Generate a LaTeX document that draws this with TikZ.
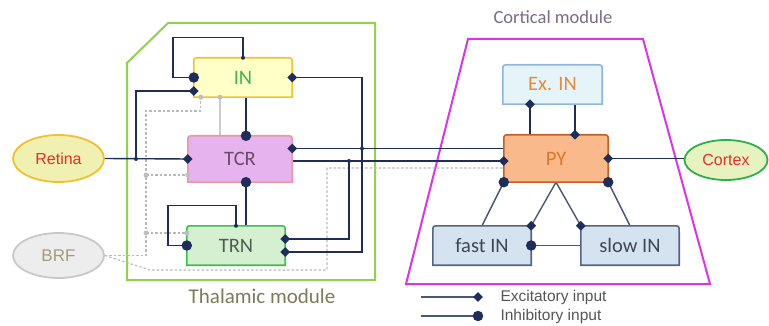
\documentclass[tikz,border=0pt]{standalone}
\usepackage{fontspec}
\setmainfont{Carlito}
\newfontfamily\arialf{Liberation Sans}
\usetikzlibrary{shapes.geometric,calc}
\definecolor{navy}{HTML}{1F2D5C}
\definecolor{slate}{HTML}{46587A}
\definecolor{gmod}{HTML}{92D050}
\definecolor{mmod}{HTML}{DD33E6}
\definecolor{inF}{HTML}{FFFFC8}\definecolor{inD}{HTML}{F2C230}\definecolor{inT}{HTML}{3DB54A}
\definecolor{tcrF}{HTML}{E6B3EE}\definecolor{tcrD}{HTML}{E89AA0}\definecolor{tcrT}{HTML}{6A4A6A}
\definecolor{trnF}{HTML}{D4F0D0}\definecolor{trnD}{HTML}{3CC04A}\definecolor{trnT}{HTML}{4F5F4F}
\definecolor{exF}{HTML}{E4F4F8}\definecolor{exD}{HTML}{8EB4E3}\definecolor{exT}{HTML}{E68A3A}
\definecolor{pyF}{HTML}{F9B98A}\definecolor{pyD}{HTML}{C0602A}\definecolor{pyT}{HTML}{D9782F}
\definecolor{ciF}{HTML}{D5E2F0}\definecolor{ciD}{HTML}{55657F}\definecolor{ciT}{HTML}{3F4757}
\definecolor{retF}{HTML}{F0F0B0}\definecolor{retD}{HTML}{F0C030}\definecolor{redT}{HTML}{E52E2E}
\definecolor{brfF}{HTML}{EDEDED}\definecolor{brfD}{HTML}{C8C8C8}\definecolor{brfT}{HTML}{A39B85}
\definecolor{corF}{HTML}{E6F2C0}\definecolor{corD}{HTML}{2EAF4A}
\definecolor{thT}{HTML}{7B7B5C}\definecolor{coT}{HTML}{7A6A88}\definecolor{lgT}{HTML}{555555}
\newcommand\tbox[3]{%
  \draw[line width=1.6pt, draw=#2, fill=#3] (#1.south west) -- ([yshift=-6pt]#1.north west)
    .. controls (#1.north west) .. ([xshift=6pt]#1.north west)
    -- ([xshift=-6pt]#1.north east)
    .. controls (#1.north east) .. ([yshift=-6pt]#1.north east)
    -- (#1.south east) -- cycle;}
\begin{document}
\begin{tikzpicture}[x=1pt,y=-1pt,
  box/.style={inner sep=0pt, minimum width=98pt, minimum height=39pt},
  btxt/.style={font=\fontsize{20.5}{21}\selectfont, inner sep=0pt},
  oval/.style={ellipse, draw, line width=1.8pt, inner sep=0pt, font=\arialf\fontsize{16}{17}\selectfont},
  nv/.style={draw=navy, line width=1.4pt},
  sl/.style={draw=slate, line width=1.4pt},
  inh/.style={circle, fill=navy, minimum size=10.5pt, inner sep=0pt},
  exc/.style={diamond, fill=navy, minimum size=10pt, inner sep=0pt},
  jdot/.style={circle, fill=navy, minimum size=4pt, inner sep=0pt},
  gd/.style={draw=gray!55, line width=1.1pt, dash pattern=on 2.5pt off 2pt},
  gdot/.style={circle, fill=gray!50, minimum size=5pt, inner sep=0pt}]
\useasboundingbox (0,0) rectangle (769,326);
% modules
\draw[gmod, line width=2pt] (168,23) -- (375,23) -- (375,280) -- (127,280) -- (127,63) -- cycle;
\draw[mmod, line width=2pt] (468,39) -- (643,39) -- (710,284) -- (406,284) -- cycle;
\node[text=thT, font=\fontsize{21}{23}\selectfont] (thlab) at (262,296) {Thalamic module};
\node[text=coT, font=\fontsize{18.5}{20}\selectfont] (colab) at (553,17) {Cortical module};
% box frames (invisible, for anchors)
\node[box] (IN) at (243,77.5) {};
\node[box, minimum width=104pt, minimum height=46pt] (TCR) at (240,159) {};
\node[box] (TRN) at (236,245.5) {};
\node[box, minimum width=99pt] (EX) at (552.5,84.5) {};
\node[box, minimum width=104pt, minimum height=47pt] (PY) at (556,158.5) {};
\node[box] (FI) at (482,245.5) {};
\node[box] (SI) at (630,245.5) {};
\node[oval, draw=retD, fill=retF, text=redT, minimum width=91pt, minimum height=47pt] (RET) at (58.5,158.5) {Retina};
\node[oval, draw=brfD, fill=brfF, text=brfT, minimum width=91pt, minimum height=45pt, font=\arialf\fontsize{17}{18}\selectfont] (BRF) at (58.5,255.5) {BRF};
\node[oval, draw=corD, fill=corF, text=redT, minimum width=83pt, minimum height=40pt] (COR) at (726,160) {Cortex};
% helper coordinates
\coordinate (vx0) at (136,0);
\coordinate (vx1) at (362,0);
\coordinate (vx2) at (349,0);
\coordinate (inB) at ([yshift=-13.5pt]IN.west);
\coordinate (tcrA) at ([yshift=10.5pt]TCR.east);
\coordinate (tcrB) at ([yshift=-2pt]TCR.east);
\coordinate (trnA) at ([yshift=6.5pt]TRN.east);
\coordinate (trnB) at ([yshift=-6.5pt]TRN.east);
\coordinate (inG1) at ([xshift=7pt]IN.south west);
\coordinate (inG2) at ([xshift=-23pt]IN.south);
\coordinate (tcrC) at ([yshift=-16pt]TCR.west);
\coordinate (trnC) at ([yshift=12.5pt]TRN.west);
\coordinate (g1) at (146,111);
\coordinate (g3) at (150,270);
\coordinate (g4) at (327,270);
\coordinate (g5) at (327,168);
\coordinate (inS) at ([xshift=3pt]IN.south);
\coordinate (tcrS) at ([xshift=6pt]TCR.south);
\coordinate (exL) at ([xshift=-22.5pt]EX.south);
\coordinate (exR) at ([xshift=22.5pt]EX.south);
% gray BRF paths
\draw[gd] (BRF.east) -| (g1) -| (inG1);
\draw[gd] (g1 |- tcrC) -- (tcrC);
\draw[gd] (g1 |- trnC) -- (trnC);
\draw[gd] (BRF.east) -- (g3) -- (g4) |- (PY.west |- g5);
\draw[gray!40, line width=1.1pt] (inG2) -- (inG2 |- TCR.north);
% thalamic connections
\draw[nv] (IN.north) -- ++(0,-20) -| ([xshift=-21pt]IN.west) -- (IN.west);
\draw[nv] (IN.east) -| (vx1 |- trnB) -- (trnB);
\draw[nv] (vx2 |- tcrB) |- (trnA);
\draw[nv] (tcrA) -- (PY.west |- tcrA);
\draw[nv] (tcrB) -- (PY.west |- tcrB);
\draw[nv] (RET.east) -- (TCR.west);
\draw[nv] (vx0 |- TCR.west) |- (inB);
\draw[nv] (inS) -- (inS |- TCR.north);
\draw[nv] (tcrS) -- (tcrS |- TRN.north);
\draw[nv] (TRN.north) -- ++(0,-20) -| ([xshift=-19pt]TRN.west) -- (TRN.west);
% cortical connections
\draw[nv] (exL) -- (exL |- PY.north);
\draw[nv] (exR) -- (exR |- PY.north);
\draw[nv] (PY.east) -- (PY.east -| COR.west);
\draw[sl] (PY.south west) -- (FI.north);
\draw[sl] (PY.south east) -- (SI.north);
\draw[sl] (PY.south) -- (FI.north east);
\draw[sl] (PY.south) -- (SI.north west);
\draw[sl] (FI.east) -- (SI.west);
% box shapes
\tbox{IN}{inD}{inF}
\tbox{TCR}{tcrD}{tcrF}
\tbox{TRN}{trnD}{trnF}
\tbox{EX}{exD}{exF}
\tbox{PY}{pyD}{pyF}
\tbox{FI}{ciD}{ciF}
\tbox{SI}{ciD}{ciF}
% box texts
\node[btxt, text=inT] (INt) at (IN.center) {IN};
\node[btxt, text=tcrT] (TCRt) at (TCR.center) {TCR};
\node[btxt, text=trnT] (TRNt) at (TRN.center) {TRN};
\node[btxt, text=exT] (EXt) at (EX.center) {Ex. IN};
\node[btxt, text=pyT] (PYt) at (PY.center) {PY};
\node[btxt, text=ciT] (FIt) at (FI.center) {fast IN};
\node[btxt, text=ciT] (SIt) at (SI.center) {slow IN};
% markers
\node[inh] at (IN.west) {};
\node[exc] at (inB) {};
\node[exc] at (IN.east) {};
\node[jdot] at (IN.north) {};
\node[inh] at (inS |- TCR.north) {};
\node[exc] at (TCR.west) {};
\node[exc] at (tcrA) {};
\node[jdot] at (vx0 |- TCR.west) {};
\node[jdot] at (vx1 |- tcrA) {};
\node[jdot] at (vx2 |- tcrB) {};
\node[inh] at (tcrS) {};
\node[jdot] at (TRN.north) {};
\node[inh] at (TRN.west) {};
\node[exc] at (trnA) {};
\node[exc] at (trnB) {};
\node[exc] at (PY.west |- tcrB) {};
\node[exc] at (exL) {};
\node[exc] at (exR |- PY.north) {};
\node[exc] at (PY.east) {};
\node[inh] at (PY.south west) {};
\node[inh] at (PY.south east) {};
\node[exc] at (FI.north east) {};
\node[exc] at (SI.north west) {};
\node[inh] at (FI.east) {};
% gray dots
\node[gdot] at (inG1) {};
\node[gdot] at (inG2) {};
\node[gdot] at (g1 |- tcrC) {};
\node[gdot] at (tcrC) {};
\node[gdot] at (g1 |- trnC) {};
\node[gdot] at (trnC) {};
% legend
\coordinate (lg1) at (421,297); \coordinate (lg2) at (478,297);
\coordinate (lg3) at (421,316); \coordinate (lg4) at (478,316);
\draw[sl] (lg1) -- (lg2); \node[exc] at (lg2) {};
\draw[sl] (lg3) -- (lg4); \node[inh] at (lg4) {};
\node[anchor=west, text=lgT, font=\arialf\fontsize{15.5}{16}\selectfont] (lgE) at (497,297) {Excitatory input};
\node[anchor=west, text=lgT, font=\arialf\fontsize{15.5}{16}\selectfont] (lgI) at (497,316) {Inhibitory input};
\end{tikzpicture}
\end{document}
